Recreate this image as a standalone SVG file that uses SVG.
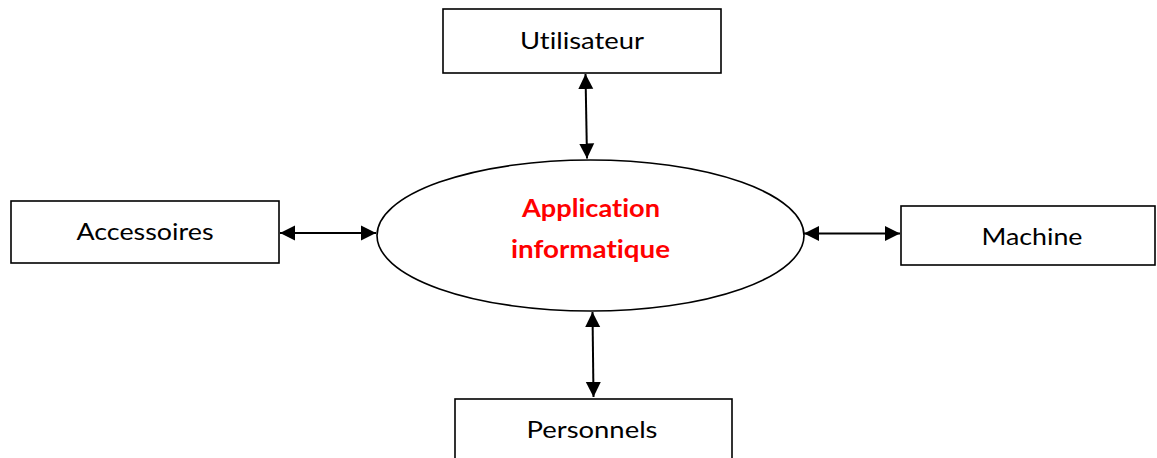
<svg xmlns="http://www.w3.org/2000/svg" width="1157" height="458" viewBox="0 0 1157 458">
<style>
.box{fill:#fff;stroke:#000;stroke-width:1.6}
.lbl{font-family:Lato,"Open Sans","Liberation Sans",sans-serif;font-size:24px;fill:#000;text-anchor:middle;font-variant-ligatures:none;font-feature-settings:"liga" 0,"dlig" 0,"clig" 0}
.red{font-family:Lato,"Open Sans","Liberation Sans",sans-serif;font-size:24px;font-weight:bold;fill:#ff0000;text-anchor:middle;font-variant-ligatures:none;font-feature-settings:"liga" 0,"dlig" 0,"clig" 0}
.con{stroke:#000;stroke-width:2;fill:none;marker-start:url(#ah);marker-end:url(#ah)}
</style>
<defs>
<marker id="ah" markerUnits="userSpaceOnUse" markerWidth="16" markerHeight="16" viewBox="0 0 16 16" refX="15" refY="8" orient="auto-start-reverse">
<path d="M0,0.5 L15,8 L0,15.5 Z" fill="#000"/>
</marker>
</defs>
<g id="utilisateur"><rect class="box" x="443" y="9" width="278" height="64"/><text class="lbl" x="582" y="49" textLength="124" lengthAdjust="spacingAndGlyphs">Utilisateur</text></g>
<g id="accessoires"><rect class="box" x="11" y="201" width="268" height="62"/><text class="lbl" x="145" y="240" textLength="137" lengthAdjust="spacingAndGlyphs">Accessoires</text></g>
<g id="machine"><rect class="box" x="901" y="206" width="254" height="59"/><text class="lbl" x="1032" y="245" textLength="101" lengthAdjust="spacingAndGlyphs">Machine</text></g>
<g id="personnels"><rect class="box" x="455" y="399" width="277" height="70"/><text class="lbl" x="592" y="438" textLength="131" lengthAdjust="spacingAndGlyphs">Personnels</text></g>
<g id="application"><ellipse class="box" cx="590.5" cy="235.5" rx="213.5" ry="75.5"/><text class="red" x="591" y="217" textLength="138" lengthAdjust="spacingAndGlyphs">Application</text><text class="red" x="590.5" y="258" textLength="159" lengthAdjust="spacingAndGlyphs">informatique</text></g>
<g id="connectors">
<line class="con" x1="585.5" y1="74" x2="587" y2="158.5"/>
<line class="con" x1="280" y1="233" x2="376" y2="233"/>
<line class="con" x1="804" y1="233.5" x2="900" y2="233.5"/>
<line class="con" x1="592.5" y1="312" x2="593.5" y2="397"/>
</g>
</svg>
